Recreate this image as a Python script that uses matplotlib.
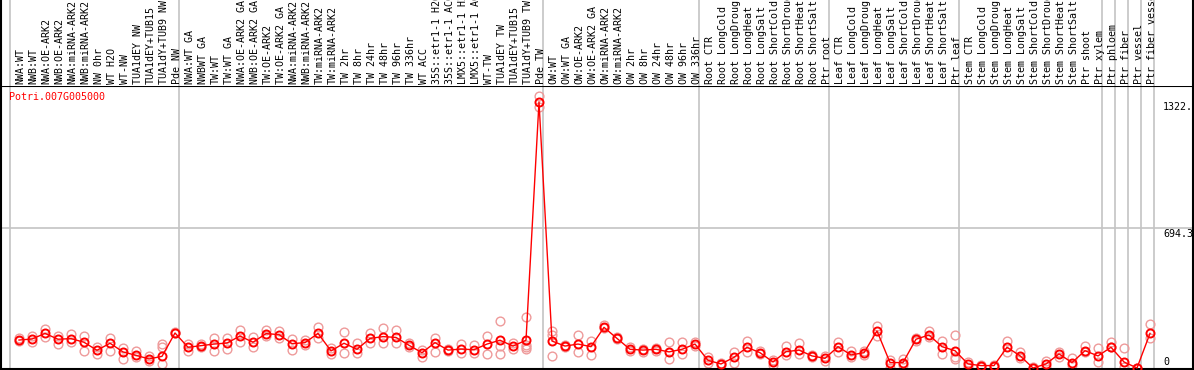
import matplotlib
matplotlib.use("Agg")
import matplotlib.pyplot as plt
import numpy as np

labels = [
    "NWA:WT", "NWB:WT", "NWA:OE-ARK2", "NWB:OE-ARK2", "NWA:miRNA-ARK2", "NWB:miRNA-ARK2",
    "NW 0hr", "WT H2O", "WT-NW", "TUA1dEY NW", "TUA1dEY+TUB15", "TUA1dY+TUB9 NW", "Pde NW",
    "NWA:WT GA", "NWBWT GA", "TW:WT", "TW:WT GA", "NWA:OE-ARK2 GA", "NWB:OE-ARK2 GA",
    "TW:OE-ARK2", "TW:OE-ARK2 GA", "NWA:miRNA-ARK2", "NWB:miRNA-ARK2", "TW:miRNA-ARK2",
    "TW:miRNA-ARK2", "TW 2hr", "TW 8hr", "TW 24hr", "TW 48hr", "TW 96hr", "TW 336hr",
    "WT ACC", "35S::etr1-1 H2O", "35S::etr1-1 ACC", "LMX5::etr1-1 H2O", "LMX5::etr1-1 ACC",
    "WT-TW", "TUA1dEY TW", "TUA1dEY+TUB15", "TUA1dY+TUB9 TW", "Pde TW",
    "OW:WT", "OW:WT GA", "OW:OE-ARK2", "OW:OE-ARK2 GA", "OW:miRNA-ARK2", "OW:miRNA-ARK2",
    "OW 2hr", "OW 8hr", "OW 24hr", "OW 48hr", "OW 96hr", "OW 336hr",
    "Root CTR", "Root LongCold", "Root LongDrought", "Root LongHeat", "Root LongSalt",
    "Root ShortCold", "Root ShortDrought", "Root ShortHeat", "Root ShortSalt", "Ptr root",
    "Leaf CTR", "Leaf LongCold", "Leaf LongDrought", "Leaf LongHeat", "Leaf LongSalt",
    "Leaf ShortCold", "Leaf ShortDrought", "Leaf ShortHeat", "Leaf ShortSalt", "Ptr leaf",
    "Stem CTR", "Stem LongCold", "Stem LongDrought", "Stem LongHeat", "Stem LongSalt",
    "Stem ShortCold", "Stem ShortDrought", "Stem ShortHeat", "Stem ShortSalt", "Ptr shoot",
    "Ptr xylem", "Ptr phloem", "Ptr fiber", "Ptr vessel", "Ptr fiber vessel",
]

mean_values = [
    139, 144, 172, 143, 146, 128, 88, 123, 80, 63, 45, 58, 174,
    103, 111, 119, 124, 159, 128, 171, 166, 121, 126, 172, 85, 123, 93, 147, 156, 152,
    113, 76, 126, 89, 94, 91, 119, 138, 109, 138, 1322,
    134, 109, 119, 106, 202, 147, 93, 89, 93, 80, 93, 119,
    38, 20, 53, 103, 76, 30, 81, 89, 60, 48,
    106, 65, 76, 184, 27, 27, 143, 164, 106, 86,
    20, 12, 12, 103, 61, 0, 20, 70, 27, 86, 60,
    103, 30, 0, 172,
]

replicates = [
    [147, 134], [161, 128], [194, 156], [161, 119], [167, 131], [161, 85], [103, 70],
    [151, 85], [101, 45], [85, 56], [61, 35], [119, 103, 20], [181, 172],
    [119, 85], [119, 103], [151, 85], [151, 93], [189, 128], [156, 103], [189, 159],
    [186, 147], [143, 89], [139, 114], [205, 147], [101, 68], [177, 73], [126, 76],
    [172, 126], [197, 126], [189, 126], [123, 106], [89, 56], [147, 80], [93, 86],
    [118, 73], [114, 76], [159, 68], [235, 109, 70], [126, 93], [255, 114, 103, 93],
    [1351, 1296],
    [186, 164, 60], [114, 103], [164, 81], [136, 65], [214, 197], [156, 143], [103, 86],
    [93, 81], [98, 85], [131, 45], [131, 70], [131, 109],
    [56, 23], [27, 13], [78, 27], [136, 81], [85, 70], [40, 15], [109, 65], [123, 70],
    [65, 53], [60, 36],
    [131, 81], [85, 56], [85, 65], [209, 159], [40, 0], [43, 15], [147, 136], [186, 156],
    [136, 70], [164, 56, 43],
    [31, 3], [15, 3], [15, 3], [136, 81], [81, 48], [3, 0], [36, 7], [81, 56], [48, 15],
    [109, 81], [98, 31],
    [131, 103], [98, 7], [0, 0], [219, 147],
]

group_ends = [0, 13, 41, 53, 63, 73, 84, 85, 86, 87, 88]
title = "Potri.007G005000"
ytick_labels = ["1322.", "694.3", "0"]
grid_value = 694.3

W, H = 1194, 370
fig = plt.figure(figsize=(W / 100, H / 100), dpi=100)
mono = "DejaVu Sans Mono"

# pixel mapping helpers
x_left = (1 - 19) / 13
x_right = (1193 - 19) / 13
y_bot = -1 / 0.2012
y_top = 282 / 0.2012

ax = fig.add_axes([1 / W, 1 / H, 1192 / W, 283 / H])
ax.set_xlim(x_left, x_right)
ax.set_ylim(y_bot, y_top)
ax.set_xticks([])
ax.set_yticks([])
for s in ax.spines.values():
    s.set_color("black")
    s.set_linewidth(1.5)

axl = fig.add_axes([1 / W, 284 / H, 1192 / W, 86 / H])
axl.set_xlim(x_left, x_right)
axl.set_ylim(0, 1)
axl.set_xticks([])
axl.set_yticks([])
axl.spines["top"].set_visible(False)
axl.spines["bottom"].set_visible(False)
for s in ["left", "right"]:
    axl.spines[s].set_color("black")
    axl.spines[s].set_linewidth(1.5)

gray = "#c4c4c4"
for g in group_ends:
    gx = g - 0.654
    ax.axvline(gx, color=gray, lw=1.2, zorder=0)
    axl.axvline(gx, color=gray, lw=1.2, zorder=0)
ax.axhline(grid_value, color=gray, lw=1.2, zorder=0)

x = np.arange(len(mean_values))
for i, reps in enumerate(replicates):
    ax.plot([i] * len(reps), reps, linestyle="none", marker="o", markersize=6.3,
            markerfacecolor="none", markeredgecolor="#ee9a9a", markeredgewidth=1.0,
            zorder=2, clip_on=True)
ax.plot(x, mean_values, color="red", lw=1.0, zorder=3)
ax.plot(x, mean_values, linestyle="none", marker="o", markersize=5.8,
        markerfacecolor="none", markeredgecolor="red", markeredgewidth=1.4, zorder=4)

for i, lab in enumerate(labels):
    axl.text(i + 0.12, 2 / 86, lab, rotation=90, ha="center", va="bottom",
             fontsize=7.2, family=mono, color="black", clip_on=True)

fig.text(9 / W, 1 - 97 / H, title, color="red", fontsize=7.2, family=mono,
         ha="left", va="center")
fig.text(1163 / W, 1 - 102 / H, ytick_labels[0], fontsize=7.2, family=mono, ha="left", va="top")
fig.text(1163 / W, 1 - 229 / H, ytick_labels[1], fontsize=7.2, family=mono, ha="left", va="top")
fig.text(1163 / W, 1 - 362 / H, ytick_labels[2], fontsize=7.2, family=mono, ha="left", va="center")

fig.savefig("out.png", dpi=100)
